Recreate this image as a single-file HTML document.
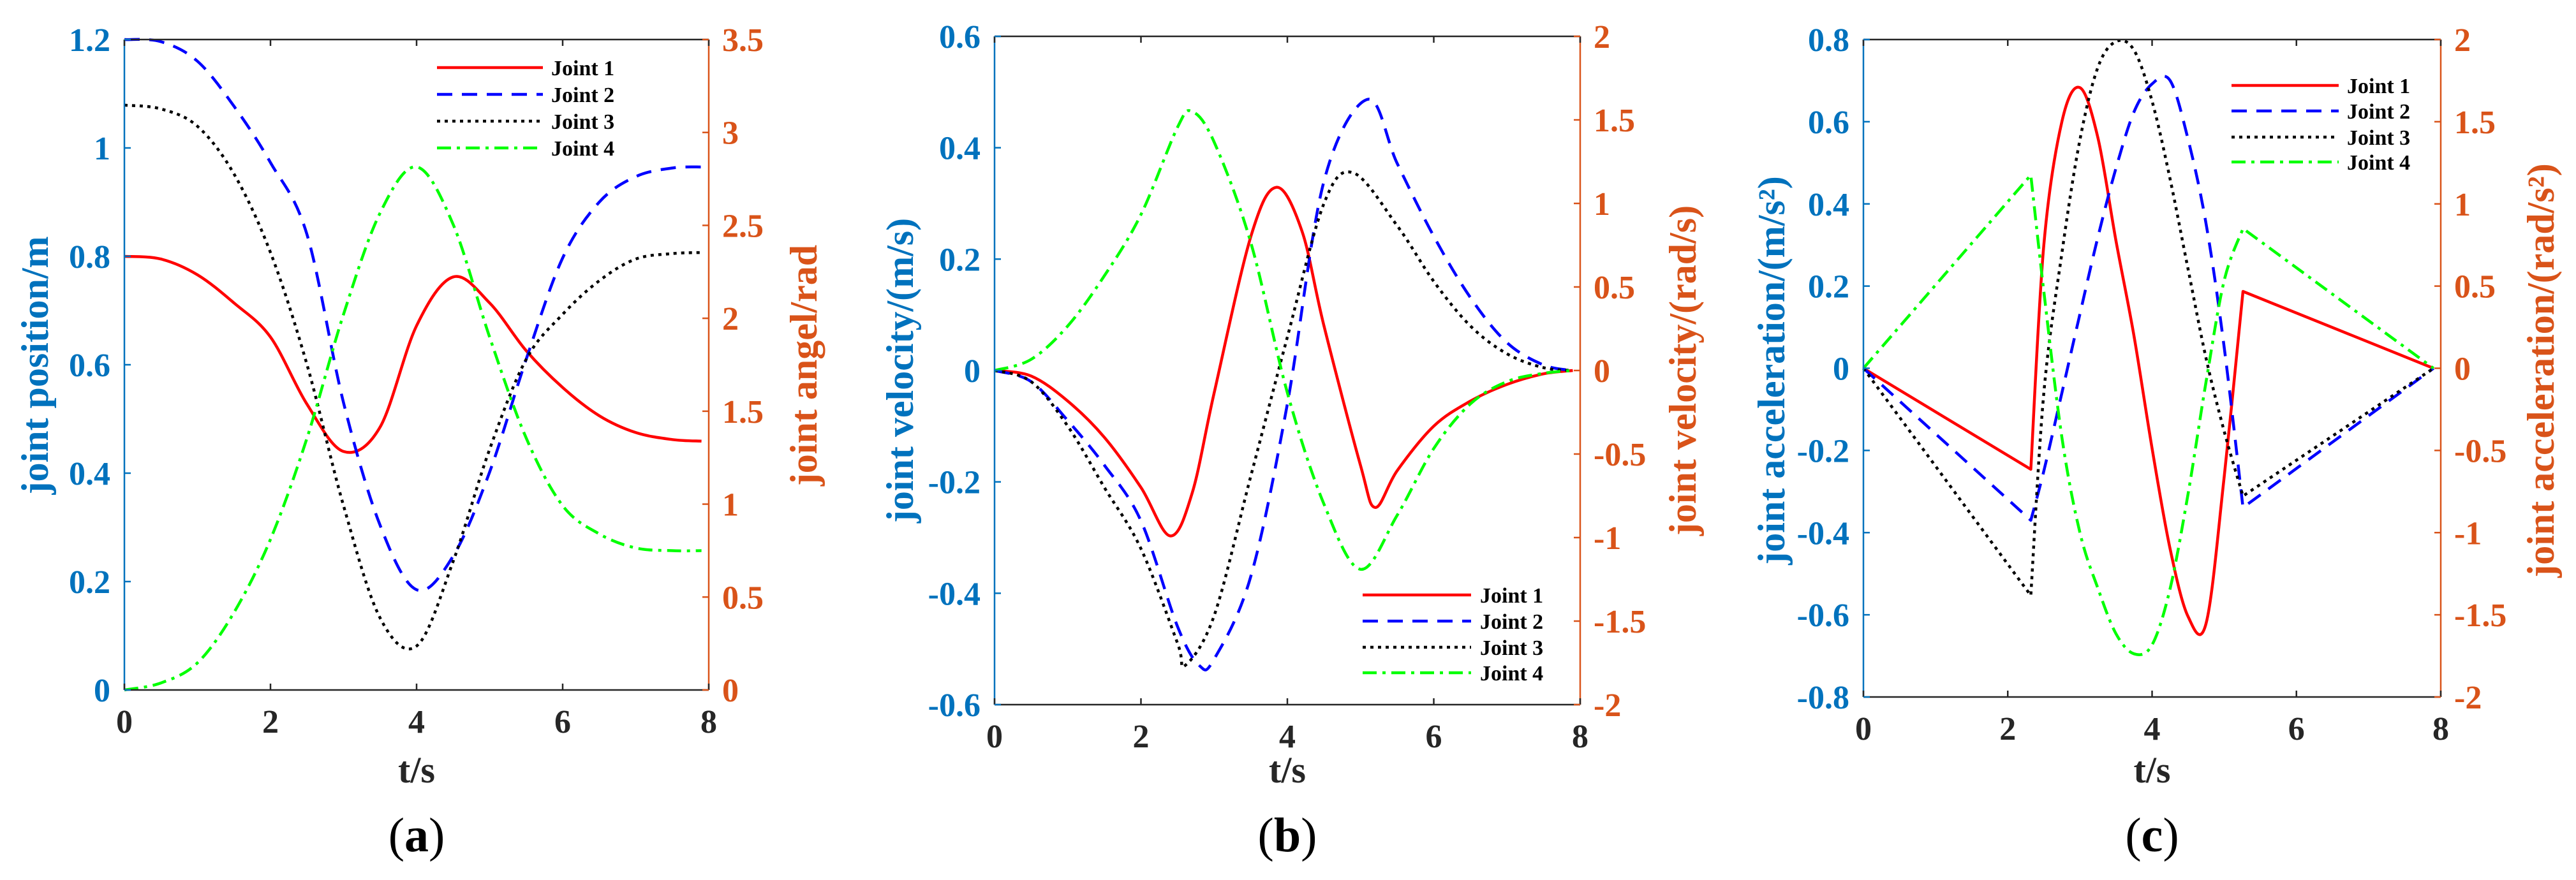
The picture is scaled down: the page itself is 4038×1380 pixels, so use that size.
<!DOCTYPE html>
<html><head><meta charset="utf-8"><style>
html,body{margin:0;padding:0;background:#fff;}
svg{display:block;font-family:"Liberation Serif",serif;}
</style></head><body>
<svg id="fig" width="4038" height="1380" viewBox="0 0 4038 1380" xmlns="http://www.w3.org/2000/svg"></svg>
<script>
// ---------- Panel (a) data: joint position ----------
const aTimes = [0,0.5,1,1.5,2,2.5,3,3.5,4,4.5,5,5.5,6,6.5,7,7.5,7.9];
const aJoint1 = [0.8,0.795,0.766,0.714,0.651,0.527,0.44,0.485,0.672,0.762,0.714,0.626,0.558,0.506,0.475,0.462,0.459];
const aJoint2 = [1.2,1.196,1.16,1.077,0.973,0.84,0.53,0.304,0.185,0.247,0.402,0.61,0.797,0.9,0.947,0.963,0.965];
const aJoint3 = [1.079,1.072,1.04,0.952,0.807,0.6,0.34,0.133,0.081,0.237,0.444,0.61,0.693,0.755,0.795,0.805,0.807];
const aJoint4 = [0,0.013,0.05,0.143,0.278,0.465,0.693,0.88,0.965,0.859,0.651,0.465,0.34,0.288,0.262,0.257,0.257];
const aLeftTicks = ["0","0.2","0.4","0.6","0.8","1","1.2"];
const aRightTicks = ["0","0.5","1","1.5","2","2.5","3","3.5"];

// ---------- Panel (b) data: joint velocity ----------
const bTimes1 = [0,0.5,1,1.5,2,2.4,2.7,3,3.5,3.85,4.2,4.5,5,5.2,5.5,6,6.5,7,7.5,7.9];
const bJoint1 = [0,-0.01,-0.055,-0.12,-0.21,-0.297,-0.22,-0.04,0.24,0.329,0.25,0.08,-0.171,-0.246,-0.18,-0.1,-0.055,-0.025,-0.006,0];
const bTimes2 = [0,0.5,1,1.5,2,2.5,2.8,3,3.5,4,4.5,5.1,5.5,6,6.5,7,7.5,7.9];
const bJoint2 = [0,-0.02,-0.09,-0.17,-0.27,-0.46,-0.53,-0.518,-0.37,-0.06,0.34,0.487,0.372,0.241,0.131,0.05,0.01,0];
const bTimes3 = [0,0.5,1,1.5,2,2.5,2.6,3,3.5,4,4.5,4.9,5.5,6,6.5,7,7.5,7.9];
const bJoint3 = [0,-0.02,-0.1,-0.21,-0.32,-0.49,-0.53,-0.44,-0.19,0.06,0.3,0.355,0.26,0.16,0.08,0.03,0.005,0];
const bTimes4 = [0,0.5,1,1.5,2,2.5,2.7,3,3.5,4,4.5,5,5.5,6,6.5,7,7.5,7.9];
const bJoint4 = [0,0.02,0.08,0.17,0.28,0.437,0.465,0.41,0.23,-0.04,-0.24,-0.357,-0.26,-0.14,-0.06,-0.02,-0.005,0];
const bLeftTicks = ["-0.6","-0.4","-0.2","0","0.2","0.4","0.6"];
const bRightTicks = ["-2","-1.5","-1","-0.5","0","0.5","1","1.5","2"];

// ---------- Panel (c) data: joint acceleration ----------
const cEdgeTimes = [0,7.9];
const cEdgeValues = [0,0];
const cMidTimes = [2.32,2.5,2.75,3,3.25,3.5,3.75,4,4.25,4.5,4.75,5,5.26];
const cJoint1 = [-0.246,0.3,0.6,0.683,0.56,0.31,0.078,-0.195,-0.44,-0.605,-0.62,-0.263,0.187];
const cJoint2 = [-0.37,-0.25,-0.06,0.132,0.32,0.487,0.624,0.692,0.7,0.556,0.35,0.05,-0.339];
const cJoint3 = [-0.553,-0.06,0.28,0.556,0.733,0.795,0.774,0.65,0.46,0.24,0.023,-0.154,-0.311];
const cJoint4 = [0.47,0.187,-0.168,-0.4,-0.536,-0.646,-0.695,-0.673,-0.536,-0.304,-0.031,0.214,0.34];
const cLeftTicks = ["-0.8","-0.6","-0.4","-0.2","0","0.2","0.4","0.6","0.8"];
const cRightTicks = ["-2","-1.5","-1","-0.5","0","0.5","1","1.5","2"];

const xTicks = ["0","2","4","6","8"];
const legendLabels = ["Joint 1","Joint 2","Joint 3","Joint 4"];

const BLUE="#0072BD", ORANGE="#D95319", DARK="#262626";
const styles = [
  {c:"#FF0000", dash:""},
  {c:"#0000FF", dash:"24 15"},
  {c:"#000000", dash:"5 7"},
  {c:"#00FF00", dash:"22 9 5 9"}
];
const NS="http://www.w3.org/2000/svg";
const svg=document.getElementById('fig');
function mk(tag, attrs, parent){
  const e=document.createElementNS(NS,tag);
  for(const k in attrs) e.setAttribute(k,attrs[k]);
  (parent||svg).appendChild(e);
  return e;
}
function spline(pts){
  let d="M"+pts[0][0].toFixed(1)+","+pts[0][1].toFixed(1);
  for(let i=0;i<pts.length-1;i++){
    const p0=pts[i-1]||pts[i], p1=pts[i], p2=pts[i+1], p3=pts[i+2]||pts[i+1];
    const c1=[p1[0]+(p2[0]-p0[0])/6, p1[1]+(p2[1]-p0[1])/6];
    const c2=[p2[0]-(p3[0]-p1[0])/6, p2[1]-(p3[1]-p1[1])/6];
    d+=" C"+c1[0].toFixed(1)+","+c1[1].toFixed(1)+" "+c2[0].toFixed(1)+","+c2[1].toFixed(1)+" "+p2[0].toFixed(1)+","+p2[1].toFixed(1);
  }
  return d;
}

function panel(cfg){
  const g=mk('g',{});
  
  
  const {x0,x1,y0,y1,ymin,ymax,rmin,rmax}=cfg;
  const X=t=>x0+(t-0)/8*(x1-x0);
  const Y=v=>y1-(v-ymin)/(ymax-ymin)*(y1-y0);
  const YR=v=>y1-(v-rmin)/(rmax-rmin)*(y1-y0);
  const sg=mk('g',{},g);
  cfg.series.forEach((d,i)=>{
    const p=mk('path',{d:d(X,Y),fill:"none",stroke:styles[i].c,"stroke-width":4.5,"stroke-dasharray":styles[i].dash,"stroke-linejoin":"round"},sg);
    
    
  });
  const tl=mk('line',{x1:x0,y1:y0,x2:x1,y2:y0,stroke:DARK,"stroke-width":2.5},g);
   
  const bl=mk('line',{x1:x0,y1:y1,x2:x1,y2:y1,stroke:DARK,"stroke-width":2.5},g);
   
  const ll=mk('line',{x1:x0,y1:y0,x2:x0,y2:y1,stroke:BLUE,"stroke-width":2.5},g);
   
  const rl=mk('line',{x1:x1,y1:y0,x2:x1,y2:y1,stroke:ORANGE,"stroke-width":2.5},g);
   
  xTicks.forEach(s=>{
    const xx=X(parseFloat(s));
    mk('line',{x1:xx,y1:y1,x2:xx,y2:y1-10,stroke:DARK,"stroke-width":2.5},g);
    mk('line',{x1:xx,y1:y0,x2:xx,y2:y0+10,stroke:DARK,"stroke-width":2.5},g);
    const t=mk('text',{x:xx,y:y1+67,"text-anchor":"middle","font-size":52,"font-weight":"bold",fill:DARK},g);
    t.textContent=s;
     
  });
  cfg.leftTicks.forEach(s=>{
    const yy=Y(parseFloat(s));
    mk('line',{x1:x0,y1:yy,x2:x0+10,y2:yy,stroke:BLUE,"stroke-width":2.5},g);
    const t=mk('text',{x:x0-22,y:yy+18,"text-anchor":"end","font-size":52,"font-weight":"bold",fill:BLUE},g);
    t.textContent=s;
     
  });
  cfg.rightTicks.forEach(s=>{
    const yy=YR(parseFloat(s));
    mk('line',{x1:x1,y1:yy,x2:x1-10,y2:yy,stroke:ORANGE,"stroke-width":2.5},g);
    const t=mk('text',{x:x1+21,y:yy+18,"text-anchor":"start","font-size":52,"font-weight":"bold",fill:ORANGE},g);
    t.textContent=s;
     
  });
  const xt=mk('text',{x:(x0+x1)/2,y:1227,"text-anchor":"middle","font-size":58,"font-weight":"bold",fill:DARK},g);
  xt.textContent="t/s";
   
  const lt=mk('text',{x:0,y:0,transform:`translate(${cfg.ltx},${cfg.ty}) rotate(-90)`,"text-anchor":"middle",dy:"0.35em","font-size":60,"font-weight":"bold",fill:BLUE},g);
  lt.textContent=cfg.leftTitle;
   
  const rt=mk('text',{x:0,y:0,transform:`translate(${cfg.rtx},${cfg.ty}) rotate(-90)`,"text-anchor":"middle",dy:"0.35em","font-size":60,"font-weight":"bold",fill:ORANGE},g);
  rt.textContent=cfg.rightTitle;
   
  const pl=mk('text',{x:(x0+x1)/2,y:1335,"text-anchor":"middle","font-size":76,fill:"#000"},g);
   
  const o=mk('tspan',{},pl); o.textContent="(";
  const b=mk('tspan',{"font-weight":"bold"},pl); b.textContent=cfg.letter;
  const c=mk('tspan',{},pl); c.textContent=")";
  const lg=mk('g',{},g);
   
  legendLabels.forEach((s,i)=>{
    const yy=cfg.leg.rows[i];
    const ln=mk('line',{x1:cfg.leg.lx0,y1:yy,x2:cfg.leg.lx1,y2:yy,stroke:styles[i].c,"stroke-width":4.5,"stroke-dasharray":styles[i].dash},lg);
     
    const t=mk('text',{x:cfg.leg.tx,y:yy+12,"font-size":34,"font-weight":"bold",fill:"#000"},lg);
    t.textContent=s;
     
  });
}
const pts=(ts,vs,X,Y)=>ts.map((t,i)=>[X(t),Y(vs[i])]);
const sA=(vs)=>(X,Y)=>spline(pts(aTimes,vs,X,Y));
const sB=(ts,vs)=>(X,Y)=>spline(pts(ts,vs,X,Y));
const sC=(vs)=>(X,Y)=>{
  const start=[X(cEdgeTimes[0]),Y(cEdgeValues[0])];
  const end=[X(cEdgeTimes[1]),Y(cEdgeValues[1])];
  const mid=pts(cMidTimes,vs,X,Y);
  return "M"+start[0]+","+start[1]+" L"+spline(mid).slice(1)+" L"+end[0]+","+end[1];
};

panel({name:"panel-a-position",letter:"a",x0:195,x1:1111,y0:62,y1:1082,ymin:0,ymax:1.2,rmin:0,rmax:3.5,
  leftTicks:aLeftTicks,rightTicks:aRightTicks,leftTitle:"joint position/m",rightTitle:"joint angel/rad",
  ltx:54,rtx:1259,ty:573,
  series:[sA(aJoint1),sA(aJoint2),sA(aJoint3),sA(aJoint4)],
  leg:{lx0:685,lx1:851,tx:864,rows:[106,148,190,232]}});
panel({name:"panel-b-velocity",letter:"b",x0:1559,x1:2477,y0:57,y1:1105,ymin:-0.6,ymax:0.6,rmin:-2,rmax:2,
  leftTicks:bLeftTicks,rightTicks:bRightTicks,leftTitle:"joint velocity/(m/s)",rightTitle:"joint velocity/(rad/s)",
  ltx:1410,rtx:2637,ty:581,
  series:[sB(bTimes1,bJoint1),sB(bTimes2,bJoint2),sB(bTimes3,bJoint3),sB(bTimes4,bJoint4)],
  leg:{lx0:2136,lx1:2306,tx:2320,rows:[933,974,1015,1055]}});
panel({name:"panel-c-acceleration",letter:"c",x0:2921,x1:3826,y0:62,y1:1093,ymin:-0.8,ymax:0.8,rmin:-2,rmax:2,
  leftTicks:cLeftTicks,rightTicks:cRightTicks,leftTitle:"joint acceleration/(m/s²)",rightTitle:"joint acceleration/(rad/s²)",
  ltx:2776,rtx:3982,ty:581,
  series:[sC(cJoint1),sC(cJoint2),sC(cJoint3),sC(cJoint4)],
  leg:{lx0:3498,lx1:3666,tx:3679,rows:[134,174,215,254]}});
</script>
</body></html>
